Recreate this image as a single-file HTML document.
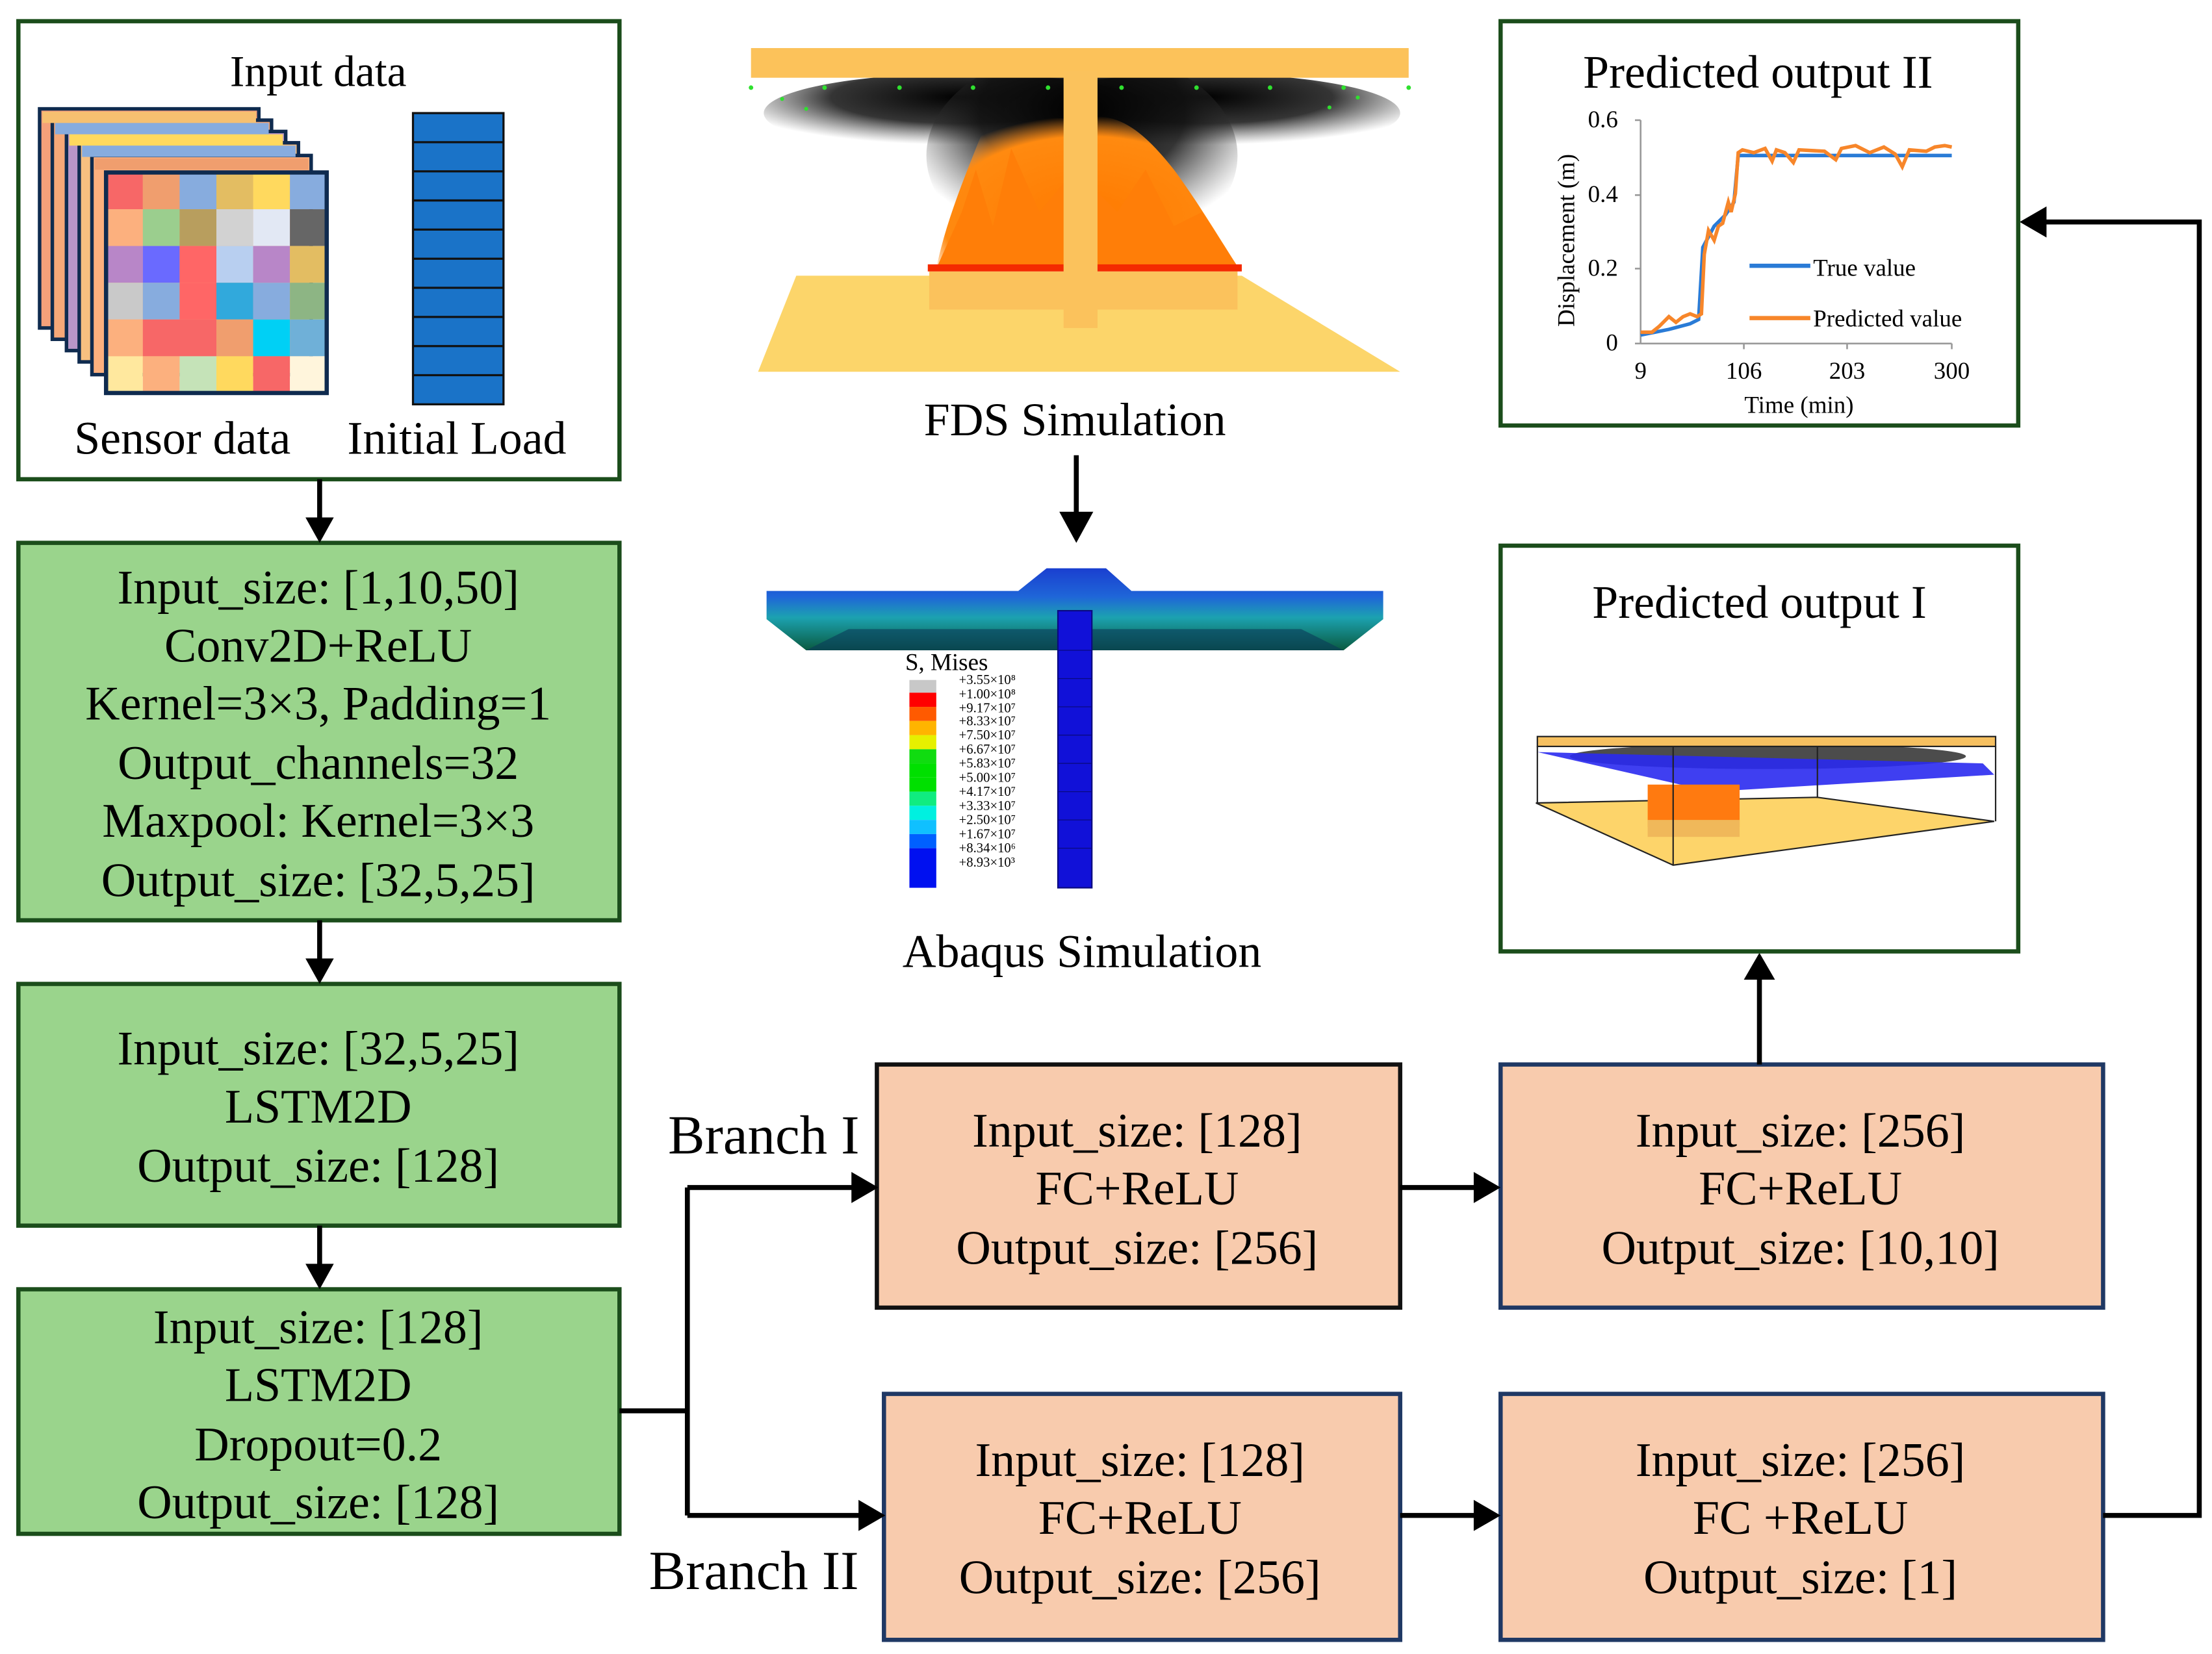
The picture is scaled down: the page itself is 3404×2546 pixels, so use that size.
<!DOCTYPE html>
<html><head><meta charset="utf-8"><style>
html,body{margin:0;padding:0;background:#fff;}
svg{display:block;}
text{font-family:"Liberation Serif",serif;fill:#000;}
</style></head><body>
<svg width="3404" height="2546" viewBox="0 0 1564 1170" preserveAspectRatio="none" xmlns="http://www.w3.org/2000/svg">
<defs>
<radialGradient id="smoke" cx="50%" cy="30%" r="60%">
<stop offset="0" stop-color="#000" stop-opacity="1"/><stop offset="0.55" stop-color="#111" stop-opacity="0.85"/><stop offset="1" stop-color="#444" stop-opacity="0"/></radialGradient>
<radialGradient id="fire" cx="50%" cy="70%" r="60%">
<stop offset="0" stop-color="#ff7a00"/><stop offset="0.8" stop-color="#ff8a10"/><stop offset="1" stop-color="#ff9020" stop-opacity="0"/></radialGradient>
<linearGradient id="slab" x1="0" y1="0" x2="0" y2="1">
<stop offset="0" stop-color="#1a3fd0"/><stop offset="0.35" stop-color="#1f66d8"/><stop offset="0.6" stop-color="#1ca2b0"/><stop offset="1" stop-color="#0a5a40"/></linearGradient>
</defs>

<!-- Input data box -->
<rect x="13" y="15" width="425" height="324" fill="#fff" stroke="#1b4d1b" stroke-width="3"/>
<text x="225" y="61" font-size="31" text-anchor="middle">Input data</text>
<g stroke="#0f2b4f" stroke-width="2.5">
<rect x="28" y="77" width="155" height="155" fill="#f4a07a"/>
<rect x="37" y="85" width="155" height="155" fill="#f6a878"/>
<rect x="47" y="93" width="155" height="155" fill="#b896c8"/>
<rect x="56" y="101" width="155" height="155" fill="#f8c080"/>
<rect x="65" y="110" width="155" height="155" fill="#fcb07e"/>
</g>
<g>
<rect x="30" y="79" width="151" height="8" fill="#f6c070"/>
<rect x="39" y="87" width="151" height="8" fill="#87acde"/>
<rect x="49" y="95" width="151" height="8" fill="#ffd95e"/>
<rect x="58" y="103" width="151" height="8" fill="#87acde"/>
<rect x="67" y="112" width="151" height="8" fill="#f09e6e"/>
</g>
<g transform="translate(75,122)">
<rect x="0" y="0" width="26" height="26" fill="#f76767"/><rect x="26" y="0" width="26" height="26" fill="#f09e6e"/><rect x="52" y="0" width="26" height="26" fill="#87acde"/><rect x="78" y="0" width="26" height="26" fill="#e3bd62"/><rect x="104" y="0" width="26" height="26" fill="#ffd95e"/><rect x="130" y="0" width="26" height="26" fill="#87acde"/>
<rect x="0" y="26" width="26" height="26" fill="#fcb07e"/><rect x="26" y="26" width="26" height="26" fill="#9bce8e"/><rect x="52" y="26" width="26" height="26" fill="#b89e5e"/><rect x="78" y="26" width="26" height="26" fill="#d2d2d2"/><rect x="104" y="26" width="26" height="26" fill="#e2e8f4"/><rect x="130" y="26" width="26" height="26" fill="#666"/>
<rect x="0" y="52" width="26" height="26" fill="#b886c8"/><rect x="26" y="52" width="26" height="26" fill="#6a6aff"/><rect x="52" y="52" width="26" height="26" fill="#ff6666"/><rect x="78" y="52" width="26" height="26" fill="#b8cff0"/><rect x="104" y="52" width="26" height="26" fill="#b886c8"/><rect x="130" y="52" width="26" height="26" fill="#e3bd62"/>
<rect x="0" y="78" width="26" height="26" fill="#c9c9c9"/><rect x="26" y="78" width="26" height="26" fill="#87acde"/><rect x="52" y="78" width="26" height="26" fill="#ff6666"/><rect x="78" y="78" width="26" height="26" fill="#31a9dc"/><rect x="104" y="78" width="26" height="26" fill="#87acde"/><rect x="130" y="78" width="26" height="26" fill="#8db584"/>
<rect x="0" y="104" width="26" height="26" fill="#fcb07e"/><rect x="26" y="104" width="52" height="26" fill="#f76767"/><rect x="78" y="104" width="26" height="26" fill="#f09e6e"/><rect x="104" y="104" width="26" height="26" fill="#00d0f5"/><rect x="130" y="104" width="26" height="26" fill="#6fb0d8"/>
<rect x="0" y="130" width="26" height="26" fill="#ffe89e"/><rect x="26" y="130" width="26" height="26" fill="#fcb07e"/><rect x="52" y="130" width="26" height="26" fill="#c5e3b8"/><rect x="78" y="130" width="26" height="26" fill="#ffd95e"/><rect x="104" y="130" width="26" height="26" fill="#f76767"/><rect x="130" y="130" width="26" height="26" fill="#fff5dc"/>
<rect x="0" y="0" width="156" height="156" fill="none" stroke="#0f2b4f" stroke-width="3"/>
</g>
<rect x="292" y="80" width="64" height="206" fill="#1a73c8" stroke="#111" stroke-width="1.5"/>
<g stroke="#111" stroke-width="1.5">
<line x1="292" y1="100.6" x2="356" y2="100.6"/><line x1="292" y1="121.2" x2="356" y2="121.2"/><line x1="292" y1="141.8" x2="356" y2="141.8"/><line x1="292" y1="162.4" x2="356" y2="162.4"/><line x1="292" y1="183" x2="356" y2="183"/><line x1="292" y1="203.6" x2="356" y2="203.6"/><line x1="292" y1="224.2" x2="356" y2="224.2"/><line x1="292" y1="244.8" x2="356" y2="244.8"/><line x1="292" y1="265.4" x2="356" y2="265.4"/>
</g>
<text x="129" y="321" font-size="33" text-anchor="middle">Sensor data</text>
<text x="323" y="321" font-size="33" text-anchor="middle">Initial Load</text>

<!-- Green boxes -->
<g fill="#9ad48c" stroke="#1b4d1b" stroke-width="3">
<rect x="13" y="384" width="425" height="267"/>
<rect x="13" y="696" width="425" height="171"/>
<rect x="13" y="912" width="425" height="173"/>
</g>
<g font-size="34" text-anchor="middle">
<text x="225" y="427">Input_size: [1,10,50]</text>
<text x="225" y="468">Conv2D+ReLU</text>
<text x="225" y="509">Kernel=3×3, Padding=1</text>
<text x="225" y="551">Output_channels=32</text>
<text x="225" y="592">Maxpool: Kernel=3×3</text>
<text x="225" y="634">Output_size: [32,5,25]</text>
<text x="225" y="753">Input_size: [32,5,25]</text>
<text x="225" y="794">LSTM2D</text>
<text x="225" y="836">Output_size: [128]</text>
<text x="225" y="950">Input_size: [128]</text>
<text x="225" y="991">LSTM2D</text>
<text x="225" y="1033">Dropout=0.2</text>
<text x="225" y="1074">Output_size: [128]</text>
</g>

<!-- Orange boxes -->
<rect x="620" y="753" width="370" height="172" fill="#f8cbad" stroke="#111" stroke-width="3"/>
<rect x="1061" y="753" width="426" height="172" fill="#f8cbad" stroke="#1f3864" stroke-width="3"/>
<rect x="625" y="986" width="365" height="174" fill="#f8cbad" stroke="#1f3864" stroke-width="3"/>
<rect x="1061" y="986" width="426" height="174" fill="#f8cbad" stroke="#1f3864" stroke-width="3"/>
<g font-size="34" text-anchor="middle">
<text x="804" y="811">Input_size: [128]</text>
<text x="804" y="852">FC+ReLU</text>
<text x="804" y="894">Output_size: [256]</text>
<text x="1273" y="811">Input_size: [256]</text>
<text x="1273" y="852">FC+ReLU</text>
<text x="1273" y="894">Output_size: [10,10]</text>
<text x="806" y="1044">Input_size: [128]</text>
<text x="806" y="1085">FC+ReLU</text>
<text x="806" y="1127">Output_size: [256]</text>
<text x="1273" y="1044">Input_size: [256]</text>
<text x="1273" y="1085">FC +ReLU</text>
<text x="1273" y="1127">Output_size: [1]</text>
</g>
<text x="540" y="816" font-size="39" text-anchor="middle">Branch I</text>
<text x="533" y="1124" font-size="39" text-anchor="middle">Branch II</text>

<!-- Connectors -->
<g stroke="#000" stroke-width="3.5" fill="none">
<line x1="226" y1="339" x2="226" y2="368"/>
<line x1="226" y1="651" x2="226" y2="680"/>
<line x1="226" y1="867" x2="226" y2="896"/>
<polyline points="438,998 486,998"/>
<polyline points="486,840 486,1072"/>
<line x1="486" y1="840" x2="604" y2="840"/>
<line x1="486" y1="1072" x2="609" y2="1072"/>
<line x1="990" y1="840" x2="1044" y2="840"/>
<line x1="990" y1="1072" x2="1044" y2="1072"/>
<line x1="1244" y1="753" x2="1244" y2="690"/>
<polyline points="1487,1072 1555,1072 1555,157 1444,157"/>
<line x1="761" y1="322" x2="761" y2="366"/>
</g>
<g fill="#000">
<polygon points="216,366 236,366 226,384"/>
<polygon points="216,678 236,678 226,696"/>
<polygon points="216,894 236,894 226,912"/>
<polygon points="602,829 602,851 621,840"/>
<polygon points="607,1061 607,1083 626,1072"/>
<polygon points="1042,829 1042,851 1061,840"/>
<polygon points="1042,1061 1042,1083 1061,1072"/>
<polygon points="1233,693 1255,693 1244,674"/>
<polygon points="1447,146 1447,168 1428,157"/>
<polygon points="749,362 773,362 761,384"/>
</g>

<!-- FDS simulation image -->
<polygon points="563,195 878,195 990,263 536,263" fill="#fcd56a"/>
<rect x="657" y="192" width="218" height="27" fill="#fbc25c"/>
<ellipse cx="680" cy="80" rx="140" ry="28" fill="url(#smoke)"/>
<ellipse cx="850" cy="80" rx="140" ry="28" fill="url(#smoke)"/>
<ellipse cx="765" cy="110" rx="110" ry="75" fill="url(#smoke)"/>
<path d="M662,190 C668,160 680,130 692,100 L705,70 C720,90 735,80 760,85 C790,75 810,95 830,120 C845,140 860,165 876,190 Z" fill="url(#fire)"/>
<path d="M662,190 L680,150 L690,120 L702,160 L715,105 L735,150 L760,120 L790,150 L810,120 L830,160 L850,150 L876,190 Z" fill="#ff7e08"/>
<rect x="656" y="187" width="222" height="5" fill="#f42a00"/>
<rect x="531" y="34" width="465" height="21" fill="#fcc25a"/>
<rect x="752" y="50" width="24" height="182" fill="#fbc25c"/>
<g fill="#2fe02f">
<circle cx="531" cy="62" r="1.6"/><circle cx="583" cy="62" r="1.6"/><circle cx="636" cy="62" r="1.6"/><circle cx="688" cy="62" r="1.6"/><circle cx="741" cy="62" r="1.6"/><circle cx="793" cy="62" r="1.6"/><circle cx="846" cy="62" r="1.6"/><circle cx="898" cy="62" r="1.6"/><circle cx="950" cy="62" r="1.6"/><circle cx="996" cy="62" r="1.6"/>
<circle cx="553" cy="70" r="1.4"/><circle cx="570" cy="77" r="1.4"/><circle cx="960" cy="69" r="1.4"/><circle cx="940" cy="76" r="1.4"/>
</g>
<text x="760" y="308" font-size="33" text-anchor="middle">FDS Simulation</text>

<!-- Abaqus -->
<polygon points="542,418 720,418 740,402 782,402 800,418 978,418 978,438 950,460 570,460 542,438" fill="url(#slab)"/>
<polygon points="600,445 920,445 950,460 570,460" fill="#0a3a5a" opacity="0.6"/>
<rect x="748" y="432" width="24" height="196" fill="#1111d8" stroke="#0a0a80" stroke-width="1"/>
<g stroke="#0a0a80" stroke-width="0.6">
<line x1="748" y1="460" x2="772" y2="460"/><line x1="748" y1="480" x2="772" y2="480"/><line x1="748" y1="500" x2="772" y2="500"/><line x1="748" y1="520" x2="772" y2="520"/><line x1="748" y1="540" x2="772" y2="540"/><line x1="748" y1="560" x2="772" y2="560"/><line x1="748" y1="580" x2="772" y2="580"/><line x1="748" y1="600" x2="772" y2="600"/>
</g>
<text x="640" y="474" font-size="17">S, Mises</text>
<g>
<rect x="643" y="481" width="19" height="9" fill="#c8c8c8"/>
<rect x="643" y="490" width="19" height="10" fill="#f00"/>
<rect x="643" y="500" width="19" height="10" fill="#ff5a00"/>
<rect x="643" y="510" width="19" height="10" fill="#ffb400"/>
<rect x="643" y="520" width="19" height="10" fill="#e6f000"/>
<rect x="643" y="530" width="19" height="10" fill="#10dc10"/>
<rect x="643" y="540" width="19" height="10" fill="#00e000"/>
<rect x="643" y="550" width="19" height="10" fill="#00e000"/>
<rect x="643" y="560" width="19" height="10" fill="#10ec80"/>
<rect x="643" y="570" width="19" height="10" fill="#00f0e0"/>
<rect x="643" y="580" width="19" height="10" fill="#10c0ff"/>
<rect x="643" y="590" width="19" height="10" fill="#0060ff"/>
<rect x="643" y="600" width="19" height="28" fill="#0010f0"/>
</g>
<g font-size="9.5">
<text x="678" y="484">+3.55×10⁸</text><text x="678" y="494">+1.00×10⁸</text><text x="678" y="504">+9.17×10⁷</text><text x="678" y="513">+8.33×10⁷</text><text x="678" y="523">+7.50×10⁷</text><text x="678" y="533">+6.67×10⁷</text><text x="678" y="543">+5.83×10⁷</text><text x="678" y="553">+5.00×10⁷</text><text x="678" y="563">+4.17×10⁷</text><text x="678" y="573">+3.33×10⁷</text><text x="678" y="583">+2.50×10⁷</text><text x="678" y="593">+1.67×10⁷</text><text x="678" y="603">+8.34×10⁶</text><text x="678" y="613">+8.93×10³</text>
</g>
<text x="765" y="684" font-size="33" text-anchor="middle">Abaqus Simulation</text>

<!-- Predicted output I -->
<rect x="1061" y="386" width="366" height="287" fill="#fff" stroke="#1b4d1b" stroke-width="3"/>
<text x="1244" y="437" font-size="33" text-anchor="middle">Predicted output I</text>
<polygon points="1086,568 1285,564 1410,581 1183,612" fill="#fdd46a" stroke="#222" stroke-width="1"/>
<ellipse cx="1250" cy="535" rx="140" ry="9" fill="#000" opacity="0.7"/>
<polygon points="1087,532 1402,540 1410,548 1210,560" fill="#2a2af0" opacity="0.9"/>
<rect x="1165" y="555" width="65" height="30" fill="#ff7a10"/>
<rect x="1165" y="580" width="65" height="12" fill="#f0b85a"/>
<rect x="1087" y="521" width="324" height="7" fill="#f6c060" stroke="#222" stroke-width="1"/>
<g stroke="#222" stroke-width="1" fill="none">
<line x1="1087" y1="528" x2="1087" y2="568"/><line x1="1411" y1="528" x2="1411" y2="581"/><line x1="1183" y1="528" x2="1183" y2="612"/><line x1="1285" y1="528" x2="1285" y2="564"/>
</g>

<!-- Predicted output II -->
<rect x="1061" y="15" width="366" height="286" fill="#fff" stroke="#1b4d1b" stroke-width="3"/>
<text x="1243" y="62" font-size="33" text-anchor="middle">Predicted output II</text>
<g stroke="#999" stroke-width="1.2">
<line x1="1160" y1="85" x2="1160" y2="243"/><line x1="1160" y1="243" x2="1380" y2="243"/>
<line x1="1156" y1="85" x2="1160" y2="85"/><line x1="1156" y1="138" x2="1160" y2="138"/><line x1="1156" y1="190" x2="1160" y2="190"/><line x1="1156" y1="243" x2="1160" y2="243"/>
<line x1="1233" y1="243" x2="1233" y2="247"/><line x1="1306" y1="243" x2="1306" y2="247"/><line x1="1380" y1="243" x2="1380" y2="247"/>
</g>
<g font-size="17" text-anchor="end">
<text x="1144" y="90">0.6</text><text x="1144" y="143">0.4</text><text x="1144" y="195">0.2</text><text x="1144" y="248">0</text>
</g>
<g font-size="17" text-anchor="middle">
<text x="1160" y="268">9</text><text x="1233" y="268">106</text><text x="1306" y="268">203</text><text x="1380" y="268">300</text>
<text x="1272" y="292">Time (min)</text>
</g>
<text transform="translate(1113,170) rotate(-90)" font-size="17" text-anchor="middle">Displacement (m)</text>
<polyline points="1160,237 1180,233 1195,229 1201,226 1204,175 1212,160 1220,152 1226,143 1229,110 1380,110" fill="none" stroke="#2a7bd6" stroke-width="2.5"/>
<polyline points="1160,235 1168,235 1173,231 1176,228 1180,224 1185,228 1190,224 1195,222 1200,224 1203,222 1205,180 1208,163 1212,170 1215,160 1218,158 1222,143 1224,150 1227,137 1229,108 1232,106 1240,108 1248,105 1253,114 1256,106 1262,108 1268,115 1272,106 1290,107 1298,113 1302,105 1312,103 1322,108 1332,104 1340,109 1345,118 1350,106 1362,107 1368,104 1375,103 1380,104" fill="none" stroke="#f7862a" stroke-width="2.5"/>
<line x1="1237" y1="188" x2="1280" y2="188" stroke="#2a7bd6" stroke-width="3"/>
<line x1="1237" y1="225" x2="1280" y2="225" stroke="#f7862a" stroke-width="3"/>
<text x="1282" y="195" font-size="17">True value</text>
<text x="1282" y="231" font-size="17">Predicted value</text>
</svg>
</body></html>
